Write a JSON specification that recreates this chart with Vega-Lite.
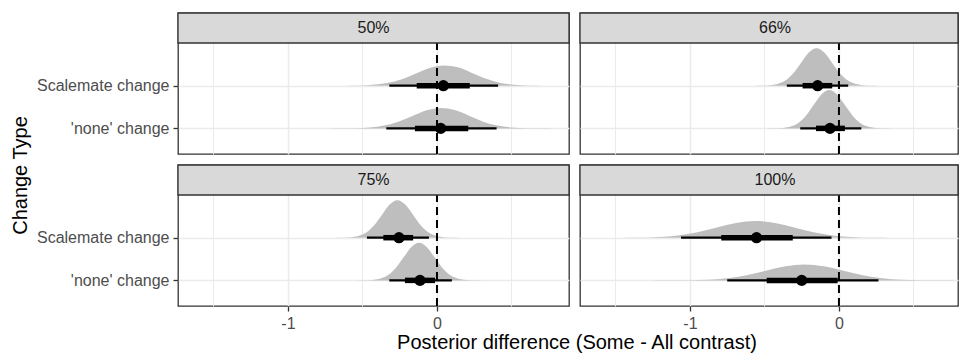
{
  "$schema": "https://vega.github.io/schema/vega-lite/v6.json",
  "padding": {"left": 9, "top": 11, "right": 0, "bottom": 0},
  "datasets": {
    "strips": [
      {"panel": "50%"}, {"panel": "66%"}, {"panel": "75%"}, {"panel": "100%"}
    ],
    "ivals": [
      {"panel": "50%", "type": "Scalemate change", "median": 0.043, "lo66": -0.136, "hi66": 0.22, "lo95": -0.32, "hi95": 0.41},
      {"panel": "50%", "type": "'none' change", "median": 0.025, "lo66": -0.148, "hi66": 0.21, "lo95": -0.34, "hi95": 0.40},
      {"panel": "66%", "type": "Scalemate change", "median": -0.143, "lo66": -0.244, "hi66": -0.045, "lo95": -0.35, "hi95": 0.062},
      {"panel": "66%", "type": "'none' change", "median": -0.06, "lo66": -0.154, "hi66": 0.04, "lo95": -0.26, "hi95": 0.15},
      {"panel": "75%", "type": "Scalemate change", "median": -0.255, "lo66": -0.36, "hi66": -0.16, "lo95": -0.47, "hi95": -0.054},
      {"panel": "75%", "type": "'none' change", "median": -0.114, "lo66": -0.215, "hi66": -0.013, "lo95": -0.32, "hi95": 0.10},
      {"panel": "100%", "type": "Scalemate change", "median": -0.553, "lo66": -0.79, "hi66": -0.31, "lo95": -1.06, "hi95": -0.05},
      {"panel": "100%", "type": "'none' change", "median": -0.25, "lo66": -0.485, "hi66": -0.009, "lo95": -0.75, "hi95": 0.265}
    ],
    "dens": [
      {"panel": "50%", "type": "Scalemate change", "x": -0.715, "density": 0},
      {"panel": "50%", "type": "Scalemate change", "x": -0.62, "density": 0.001},
      {"panel": "50%", "type": "Scalemate change", "x": -0.525, "density": 0.005},
      {"panel": "50%", "type": "Scalemate change", "x": -0.43, "density": 0.021},
      {"panel": "50%", "type": "Scalemate change", "x": -0.335, "density": 0.062},
      {"panel": "50%", "type": "Scalemate change", "x": -0.24, "density": 0.148},
      {"panel": "50%", "type": "Scalemate change", "x": -0.145, "density": 0.282},
      {"panel": "50%", "type": "Scalemate change", "x": -0.05, "density": 0.416},
      {"panel": "50%", "type": "Scalemate change", "x": 0.045, "density": 0.475},
      {"panel": "50%", "type": "Scalemate change", "x": 0.14, "density": 0.43},
      {"panel": "50%", "type": "Scalemate change", "x": 0.235, "density": 0.3},
      {"panel": "50%", "type": "Scalemate change", "x": 0.33, "density": 0.16},
      {"panel": "50%", "type": "Scalemate change", "x": 0.425, "density": 0.066},
      {"panel": "50%", "type": "Scalemate change", "x": 0.52, "density": 0.021},
      {"panel": "50%", "type": "Scalemate change", "x": 0.615, "density": 0.005},
      {"panel": "50%", "type": "Scalemate change", "x": 0.71, "density": 0.001},
      {"panel": "50%", "type": "Scalemate change", "x": 0.805, "density": 0},

      {"panel": "50%", "type": "'none' change", "x": -0.735, "density": 0},
      {"panel": "50%", "type": "'none' change", "x": -0.64, "density": 0.001},
      {"panel": "50%", "type": "'none' change", "x": -0.545, "density": 0.005},
      {"panel": "50%", "type": "'none' change", "x": -0.45, "density": 0.021},
      {"panel": "50%", "type": "'none' change", "x": -0.355, "density": 0.065},
      {"panel": "50%", "type": "'none' change", "x": -0.26, "density": 0.156},
      {"panel": "50%", "type": "'none' change", "x": -0.165, "density": 0.291},
      {"panel": "50%", "type": "'none' change", "x": -0.07, "density": 0.424},
      {"panel": "50%", "type": "'none' change", "x": 0.025, "density": 0.48},
      {"panel": "50%", "type": "'none' change", "x": 0.12, "density": 0.43},
      {"panel": "50%", "type": "'none' change", "x": 0.215, "density": 0.298},
      {"panel": "50%", "type": "'none' change", "x": 0.31, "density": 0.158},
      {"panel": "50%", "type": "'none' change", "x": 0.405, "density": 0.065},
      {"panel": "50%", "type": "'none' change", "x": 0.5, "density": 0.021},
      {"panel": "50%", "type": "'none' change", "x": 0.595, "density": 0.005},
      {"panel": "50%", "type": "'none' change", "x": 0.69, "density": 0.001},
      {"panel": "50%", "type": "'none' change", "x": 0.785, "density": 0},

      {"panel": "66%", "type": "Scalemate change", "x": -0.57, "density": 0},
      {"panel": "66%", "type": "Scalemate change", "x": -0.518, "density": 0.002},
      {"panel": "66%", "type": "Scalemate change", "x": -0.465, "density": 0.01},
      {"panel": "66%", "type": "Scalemate change", "x": -0.413, "density": 0.039},
      {"panel": "66%", "type": "Scalemate change", "x": -0.36, "density": 0.119},
      {"panel": "66%", "type": "Scalemate change", "x": -0.308, "density": 0.286},
      {"panel": "66%", "type": "Scalemate change", "x": -0.255, "density": 0.534},
      {"panel": "66%", "type": "Scalemate change", "x": -0.203, "density": 0.777},
      {"panel": "66%", "type": "Scalemate change", "x": -0.15, "density": 0.88},
      {"panel": "66%", "type": "Scalemate change", "x": -0.098, "density": 0.777},
      {"panel": "66%", "type": "Scalemate change", "x": -0.045, "density": 0.534},
      {"panel": "66%", "type": "Scalemate change", "x": 0.008, "density": 0.286},
      {"panel": "66%", "type": "Scalemate change", "x": 0.06, "density": 0.119},
      {"panel": "66%", "type": "Scalemate change", "x": 0.113, "density": 0.039},
      {"panel": "66%", "type": "Scalemate change", "x": 0.165, "density": 0.01},
      {"panel": "66%", "type": "Scalemate change", "x": 0.218, "density": 0.002},
      {"panel": "66%", "type": "Scalemate change", "x": 0.27, "density": 0},

      {"panel": "66%", "type": "'none' change", "x": -0.485, "density": 0},
      {"panel": "66%", "type": "'none' change", "x": -0.433, "density": 0.002},
      {"panel": "66%", "type": "'none' change", "x": -0.38, "density": 0.01},
      {"panel": "66%", "type": "'none' change", "x": -0.328, "density": 0.04},
      {"panel": "66%", "type": "'none' change", "x": -0.275, "density": 0.122},
      {"panel": "66%", "type": "'none' change", "x": -0.223, "density": 0.292},
      {"panel": "66%", "type": "'none' change", "x": -0.17, "density": 0.546},
      {"panel": "66%", "type": "'none' change", "x": -0.118, "density": 0.794},
      {"panel": "66%", "type": "'none' change", "x": -0.065, "density": 0.9},
      {"panel": "66%", "type": "'none' change", "x": -0.013, "density": 0.794},
      {"panel": "66%", "type": "'none' change", "x": 0.04, "density": 0.546},
      {"panel": "66%", "type": "'none' change", "x": 0.093, "density": 0.292},
      {"panel": "66%", "type": "'none' change", "x": 0.145, "density": 0.122},
      {"panel": "66%", "type": "'none' change", "x": 0.198, "density": 0.04},
      {"panel": "66%", "type": "'none' change", "x": 0.25, "density": 0.01},
      {"panel": "66%", "type": "'none' change", "x": 0.303, "density": 0.002},
      {"panel": "66%", "type": "'none' change", "x": 0.355, "density": 0},

      {"panel": "75%", "type": "Scalemate change", "x": -0.685, "density": 0},
      {"panel": "75%", "type": "Scalemate change", "x": -0.633, "density": 0.002},
      {"panel": "75%", "type": "Scalemate change", "x": -0.58, "density": 0.01},
      {"panel": "75%", "type": "Scalemate change", "x": -0.528, "density": 0.039},
      {"panel": "75%", "type": "Scalemate change", "x": -0.475, "density": 0.119},
      {"panel": "75%", "type": "Scalemate change", "x": -0.423, "density": 0.286},
      {"panel": "75%", "type": "Scalemate change", "x": -0.37, "density": 0.534},
      {"panel": "75%", "type": "Scalemate change", "x": -0.318, "density": 0.777},
      {"panel": "75%", "type": "Scalemate change", "x": -0.265, "density": 0.88},
      {"panel": "75%", "type": "Scalemate change", "x": -0.213, "density": 0.777},
      {"panel": "75%", "type": "Scalemate change", "x": -0.16, "density": 0.534},
      {"panel": "75%", "type": "Scalemate change", "x": -0.108, "density": 0.286},
      {"panel": "75%", "type": "Scalemate change", "x": -0.055, "density": 0.119},
      {"panel": "75%", "type": "Scalemate change", "x": -0.003, "density": 0.039},
      {"panel": "75%", "type": "Scalemate change", "x": 0.05, "density": 0.01},
      {"panel": "75%", "type": "Scalemate change", "x": 0.103, "density": 0.002},
      {"panel": "75%", "type": "Scalemate change", "x": 0.155, "density": 0},

      {"panel": "75%", "type": "'none' change", "x": -0.54, "density": 0},
      {"panel": "75%", "type": "'none' change", "x": -0.488, "density": 0.002},
      {"panel": "75%", "type": "'none' change", "x": -0.435, "density": 0.01},
      {"panel": "75%", "type": "'none' change", "x": -0.383, "density": 0.039},
      {"panel": "75%", "type": "'none' change", "x": -0.33, "density": 0.119},
      {"panel": "75%", "type": "'none' change", "x": -0.278, "density": 0.286},
      {"panel": "75%", "type": "'none' change", "x": -0.225, "density": 0.534},
      {"panel": "75%", "type": "'none' change", "x": -0.173, "density": 0.777},
      {"panel": "75%", "type": "'none' change", "x": -0.12, "density": 0.88},
      {"panel": "75%", "type": "'none' change", "x": -0.068, "density": 0.777},
      {"panel": "75%", "type": "'none' change", "x": -0.015, "density": 0.534},
      {"panel": "75%", "type": "'none' change", "x": 0.038, "density": 0.286},
      {"panel": "75%", "type": "'none' change", "x": 0.09, "density": 0.119},
      {"panel": "75%", "type": "'none' change", "x": 0.143, "density": 0.039},
      {"panel": "75%", "type": "'none' change", "x": 0.195, "density": 0.01},
      {"panel": "75%", "type": "'none' change", "x": 0.248, "density": 0.002},
      {"panel": "75%", "type": "'none' change", "x": 0.3, "density": 0},

      {"panel": "100%", "type": "Scalemate change", "x": -1.6, "density": 0},
      {"panel": "100%", "type": "Scalemate change", "x": -1.47, "density": 0.001},
      {"panel": "100%", "type": "Scalemate change", "x": -1.34, "density": 0.004},
      {"panel": "100%", "type": "Scalemate change", "x": -1.21, "density": 0.017},
      {"panel": "100%", "type": "Scalemate change", "x": -1.08, "density": 0.053},
      {"panel": "100%", "type": "Scalemate change", "x": -0.95, "density": 0.127},
      {"panel": "100%", "type": "Scalemate change", "x": -0.82, "density": 0.237},
      {"panel": "100%", "type": "Scalemate change", "x": -0.69, "density": 0.344},
      {"panel": "100%", "type": "Scalemate change", "x": -0.56, "density": 0.39},
      {"panel": "100%", "type": "Scalemate change", "x": -0.43, "density": 0.344},
      {"panel": "100%", "type": "Scalemate change", "x": -0.3, "density": 0.237},
      {"panel": "100%", "type": "Scalemate change", "x": -0.17, "density": 0.127},
      {"panel": "100%", "type": "Scalemate change", "x": -0.04, "density": 0.053},
      {"panel": "100%", "type": "Scalemate change", "x": 0.09, "density": 0.017},
      {"panel": "100%", "type": "Scalemate change", "x": 0.22, "density": 0.004},
      {"panel": "100%", "type": "Scalemate change", "x": 0.35, "density": 0.001},
      {"panel": "100%", "type": "Scalemate change", "x": 0.48, "density": 0},

      {"panel": "100%", "type": "'none' change", "x": -1.27, "density": 0},
      {"panel": "100%", "type": "'none' change", "x": -1.14, "density": 0.001},
      {"panel": "100%", "type": "'none' change", "x": -1.01, "density": 0.004},
      {"panel": "100%", "type": "'none' change", "x": -0.88, "density": 0.017},
      {"panel": "100%", "type": "'none' change", "x": -0.75, "density": 0.051},
      {"panel": "100%", "type": "'none' change", "x": -0.62, "density": 0.122},
      {"panel": "100%", "type": "'none' change", "x": -0.49, "density": 0.227},
      {"panel": "100%", "type": "'none' change", "x": -0.36, "density": 0.331},
      {"panel": "100%", "type": "'none' change", "x": -0.23, "density": 0.375},
      {"panel": "100%", "type": "'none' change", "x": -0.1, "density": 0.331},
      {"panel": "100%", "type": "'none' change", "x": 0.03, "density": 0.227},
      {"panel": "100%", "type": "'none' change", "x": 0.16, "density": 0.122},
      {"panel": "100%", "type": "'none' change", "x": 0.29, "density": 0.051},
      {"panel": "100%", "type": "'none' change", "x": 0.42, "density": 0.017},
      {"panel": "100%", "type": "'none' change", "x": 0.55, "density": 0.004},
      {"panel": "100%", "type": "'none' change", "x": 0.68, "density": 0.001},
      {"panel": "100%", "type": "'none' change", "x": 0.81, "density": 0}
    ]
  },
  "columns": 2,
  "spacing": 11,
  "bounds": "flush",
  "concat": [
    {
      "width": 391, "height": 141,
      "layer": [
        {
          "data": {"name": "dens"},
          "transform": [
            {"filter": "datum.panel === '50%'"},
            {"calculate": "datum.type === 'Scalemate change' ? 2 : 1", "as": "level"},
            {"calculate": "datum.level + datum.density", "as": "top"}
          ],
          "mark": {"type": "area", "color": "#bebebe", "opacity": 1, "interpolate": "monotone"},
          "encoding": {
            "x": {"field": "x", "type": "quantitative", "scale": {"domain": [-1.738, 0.886], "nice": false, "zero": false},
              "axis": {"values": [-1.5, -1, -0.5, 0, 0.5], "labels": false, "ticks": false, "grid": true, "title": null,
                "gridWidth": {"condition": {"test": "datum.value % 1 !== 0", "value": 1}, "value": 1.5}}},
            "y": {"field": "top", "type": "quantitative", "scale": {"domain": [0.4, 3.703], "nice": false, "zero": false},
              "axis": {"values": [1, 2], "labelExpr": "datum.value === 2 ? 'Scalemate change' : '\\'none\\' change'", "grid": true, "gridWidth": 1.5,
                "title": "Change Type", "titleY": 162, "titlePadding": 6}},
            "y2": {"field": "level"},
            "detail": {"field": "type"}
          }
        },
        {
          "data": {"name": "ivals"},
          "transform": [
            {"filter": "datum.panel === '50%'"},
            {"calculate": "datum.type === 'Scalemate change' ? 2 : 1", "as": "level"}
          ],
          "layer": [
            {"mark": {"type": "rule", "color": "#000000", "strokeWidth": 2.2},
             "encoding": {"x": {"field": "lo95", "type": "quantitative"}, "x2": {"field": "hi95"}, "y": {"field": "level", "type": "quantitative"}}},
            {"mark": {"type": "rule", "color": "#000000", "strokeWidth": 5.5},
             "encoding": {"x": {"field": "lo66", "type": "quantitative"}, "x2": {"field": "hi66"}, "y": {"field": "level", "type": "quantitative"}}},
            {"mark": {"type": "point", "filled": true, "color": "#000000", "opacity": 1, "size": 125},
             "encoding": {"x": {"field": "median", "type": "quantitative"}, "y": {"field": "level", "type": "quantitative"}}}
          ]
        },
        {
          "data": {"name": "strips"},
          "transform": [{"filter": "datum.panel === '50%'"}],
          "layer": [
            {"mark": {"type": "rule", "color": "#000000", "strokeWidth": 2, "strokeDash": [8, 5]},
             "encoding": {"x": {"datum": 0, "type": "quantitative"}, "y": {"datum": 0.4, "type": "quantitative"}, "y2": {"datum": 3.0}}},
            {"mark": {"type": "rect", "fill": "#d9d9d9", "stroke": "#333333", "strokeWidth": 1.3},
             "encoding": {"x": {"datum": -1.738, "type": "quantitative"}, "x2": {"datum": 0.886}, "y": {"datum": 3.0, "type": "quantitative"}, "y2": {"datum": 3.703}}},
            {"mark": {"type": "text", "fontSize": 16, "color": "#1a1a1a", "baseline": "middle"},
             "encoding": {"y": {"datum": 3.352, "type": "quantitative"}, "text": {"field": "panel"}}}
          ]
        }
      ]
    },
    {
      "width": 378, "height": 141,
      "layer": [
        {
          "data": {"name": "dens"},
          "transform": [
            {"filter": "datum.panel === '66%'"},
            {"calculate": "datum.type === 'Scalemate change' ? 2 : 1", "as": "level"},
            {"calculate": "datum.level + datum.density", "as": "top"}
          ],
          "mark": {"type": "area", "color": "#bebebe", "opacity": 1, "interpolate": "monotone"},
          "encoding": {
            "x": {"field": "x", "type": "quantitative", "scale": {"domain": [-1.738, 0.799], "nice": false, "zero": false},
              "axis": {"values": [-1.5, -1, -0.5, 0, 0.5], "labels": false, "ticks": false, "grid": true, "title": null,
                "gridWidth": {"condition": {"test": "datum.value % 1 !== 0", "value": 1}, "value": 1.5}}},
            "y": {"field": "top", "type": "quantitative", "scale": {"domain": [0.4, 3.703], "nice": false, "zero": false},
              "axis": {"values": [1, 2], "labels": false, "ticks": false, "grid": true, "gridWidth": 1.5, "title": null}},
            "y2": {"field": "level"},
            "detail": {"field": "type"}
          }
        },
        {
          "data": {"name": "ivals"},
          "transform": [
            {"filter": "datum.panel === '66%'"},
            {"calculate": "datum.type === 'Scalemate change' ? 2 : 1", "as": "level"}
          ],
          "layer": [
            {"mark": {"type": "rule", "color": "#000000", "strokeWidth": 2.2},
             "encoding": {"x": {"field": "lo95", "type": "quantitative"}, "x2": {"field": "hi95"}, "y": {"field": "level", "type": "quantitative"}}},
            {"mark": {"type": "rule", "color": "#000000", "strokeWidth": 5.5},
             "encoding": {"x": {"field": "lo66", "type": "quantitative"}, "x2": {"field": "hi66"}, "y": {"field": "level", "type": "quantitative"}}},
            {"mark": {"type": "point", "filled": true, "color": "#000000", "opacity": 1, "size": 125},
             "encoding": {"x": {"field": "median", "type": "quantitative"}, "y": {"field": "level", "type": "quantitative"}}}
          ]
        },
        {
          "data": {"name": "strips"},
          "transform": [{"filter": "datum.panel === '66%'"}],
          "layer": [
            {"mark": {"type": "rule", "color": "#000000", "strokeWidth": 2, "strokeDash": [8, 5]},
             "encoding": {"x": {"datum": 0, "type": "quantitative"}, "y": {"datum": 0.4, "type": "quantitative"}, "y2": {"datum": 3.0}}},
            {"mark": {"type": "rect", "fill": "#d9d9d9", "stroke": "#333333", "strokeWidth": 1.3},
             "encoding": {"x": {"datum": -1.738, "type": "quantitative"}, "x2": {"datum": 0.799}, "y": {"datum": 3.0, "type": "quantitative"}, "y2": {"datum": 3.703}}},
            {"mark": {"type": "text", "fontSize": 16, "color": "#1a1a1a", "baseline": "middle", "dx": 6},
             "encoding": {"y": {"datum": 3.352, "type": "quantitative"}, "text": {"field": "panel"}}}
          ]
        }
      ]
    },
    {
      "width": 391, "height": 141,
      "layer": [
        {
          "data": {"name": "dens"},
          "transform": [
            {"filter": "datum.panel === '75%'"},
            {"calculate": "datum.type === 'Scalemate change' ? 2 : 1", "as": "level"},
            {"calculate": "datum.level + datum.density", "as": "top"}
          ],
          "mark": {"type": "area", "color": "#bebebe", "opacity": 1, "interpolate": "monotone"},
          "encoding": {
            "x": {"field": "x", "type": "quantitative", "scale": {"domain": [-1.738, 0.886], "nice": false, "zero": false},
              "axis": {"values": [-1.5, -1, -0.5, 0, 0.5], "labelExpr": "datum.value === 0 ? '0' : datum.value === -1 ? '-1' : ''", "grid": true,
                "tickOpacity": {"condition": {"test": "datum.value % 1 !== 0", "value": 0}, "value": 1},
                "gridWidth": {"condition": {"test": "datum.value % 1 !== 0", "value": 1}, "value": 1.5},
                "title": "Posterior difference (Some - All contrast)", "titleX": 398.5, "titlePadding": 1}},
            "y": {"field": "top", "type": "quantitative", "scale": {"domain": [0.4, 3.703], "nice": false, "zero": false},
              "axis": {"values": [1, 2], "labelExpr": "datum.value === 2 ? 'Scalemate change' : '\\'none\\' change'", "grid": true, "gridWidth": 1.5, "title": null}},
            "y2": {"field": "level"},
            "detail": {"field": "type"}
          }
        },
        {
          "data": {"name": "ivals"},
          "transform": [
            {"filter": "datum.panel === '75%'"},
            {"calculate": "datum.type === 'Scalemate change' ? 2 : 1", "as": "level"}
          ],
          "layer": [
            {"mark": {"type": "rule", "color": "#000000", "strokeWidth": 2.2},
             "encoding": {"x": {"field": "lo95", "type": "quantitative"}, "x2": {"field": "hi95"}, "y": {"field": "level", "type": "quantitative"}}},
            {"mark": {"type": "rule", "color": "#000000", "strokeWidth": 5.5},
             "encoding": {"x": {"field": "lo66", "type": "quantitative"}, "x2": {"field": "hi66"}, "y": {"field": "level", "type": "quantitative"}}},
            {"mark": {"type": "point", "filled": true, "color": "#000000", "opacity": 1, "size": 125},
             "encoding": {"x": {"field": "median", "type": "quantitative"}, "y": {"field": "level", "type": "quantitative"}}}
          ]
        },
        {
          "data": {"name": "strips"},
          "transform": [{"filter": "datum.panel === '75%'"}],
          "layer": [
            {"mark": {"type": "rule", "color": "#000000", "strokeWidth": 2, "strokeDash": [8, 5]},
             "encoding": {"x": {"datum": 0, "type": "quantitative"}, "y": {"datum": 0.4, "type": "quantitative"}, "y2": {"datum": 3.0}}},
            {"mark": {"type": "rect", "fill": "#d9d9d9", "stroke": "#333333", "strokeWidth": 1.3},
             "encoding": {"x": {"datum": -1.738, "type": "quantitative"}, "x2": {"datum": 0.886}, "y": {"datum": 3.0, "type": "quantitative"}, "y2": {"datum": 3.703}}},
            {"mark": {"type": "text", "fontSize": 16, "color": "#1a1a1a", "baseline": "middle"},
             "encoding": {"y": {"datum": 3.352, "type": "quantitative"}, "text": {"field": "panel"}}}
          ]
        }
      ]
    },
    {
      "width": 378, "height": 141,
      "layer": [
        {
          "data": {"name": "dens"},
          "transform": [
            {"filter": "datum.panel === '100%'"},
            {"calculate": "datum.type === 'Scalemate change' ? 2 : 1", "as": "level"},
            {"calculate": "datum.level + datum.density", "as": "top"}
          ],
          "mark": {"type": "area", "color": "#bebebe", "opacity": 1, "interpolate": "monotone", "clip": true},
          "encoding": {
            "x": {"field": "x", "type": "quantitative", "scale": {"domain": [-1.738, 0.799], "nice": false, "zero": false},
              "axis": {"values": [-1.5, -1, -0.5, 0, 0.5], "labelExpr": "datum.value === 0 ? '0' : datum.value === -1 ? '-1' : ''", "grid": true,
                "tickOpacity": {"condition": {"test": "datum.value % 1 !== 0", "value": 0}, "value": 1},
                "gridWidth": {"condition": {"test": "datum.value % 1 !== 0", "value": 1}, "value": 1.5},
                "title": null}},
            "y": {"field": "top", "type": "quantitative", "scale": {"domain": [0.4, 3.703], "nice": false, "zero": false},
              "axis": {"values": [1, 2], "labels": false, "ticks": false, "grid": true, "gridWidth": 1.5, "title": null}},
            "y2": {"field": "level"},
            "detail": {"field": "type"}
          }
        },
        {
          "data": {"name": "ivals"},
          "transform": [
            {"filter": "datum.panel === '100%'"},
            {"calculate": "datum.type === 'Scalemate change' ? 2 : 1", "as": "level"}
          ],
          "layer": [
            {"mark": {"type": "rule", "color": "#000000", "strokeWidth": 2.2},
             "encoding": {"x": {"field": "lo95", "type": "quantitative"}, "x2": {"field": "hi95"}, "y": {"field": "level", "type": "quantitative"}}},
            {"mark": {"type": "rule", "color": "#000000", "strokeWidth": 5.5},
             "encoding": {"x": {"field": "lo66", "type": "quantitative"}, "x2": {"field": "hi66"}, "y": {"field": "level", "type": "quantitative"}}},
            {"mark": {"type": "point", "filled": true, "color": "#000000", "opacity": 1, "size": 125},
             "encoding": {"x": {"field": "median", "type": "quantitative"}, "y": {"field": "level", "type": "quantitative"}}}
          ]
        },
        {
          "data": {"name": "strips"},
          "transform": [{"filter": "datum.panel === '100%'"}],
          "layer": [
            {"mark": {"type": "rule", "color": "#000000", "strokeWidth": 2, "strokeDash": [8, 5]},
             "encoding": {"x": {"datum": 0, "type": "quantitative"}, "y": {"datum": 0.4, "type": "quantitative"}, "y2": {"datum": 3.0}}},
            {"mark": {"type": "rect", "fill": "#d9d9d9", "stroke": "#333333", "strokeWidth": 1.3},
             "encoding": {"x": {"datum": -1.738, "type": "quantitative"}, "x2": {"datum": 0.799}, "y": {"datum": 3.0, "type": "quantitative"}, "y2": {"datum": 3.703}}},
            {"mark": {"type": "text", "fontSize": 16, "color": "#1a1a1a", "baseline": "middle", "dx": 6},
             "encoding": {"y": {"datum": 3.352, "type": "quantitative"}, "text": {"field": "panel"}}}
          ]
        }
      ]
    }
  ],
  "config": {
    "font": "Liberation Sans",
    "view": {"stroke": "#333333", "strokeWidth": 1.3},
    "axis": {
      "domain": false,
      "labelFont": "Liberation Sans",
      "labelFontSize": 16,
      "labelColor": "#4d4d4d",
      "labelPadding": 4,
      "tickColor": "#333333",
      "tickSize": 5,
      "tickWidth": 1.3,
      "gridColor": "#ebebeb",
      "titleFont": "Liberation Sans",
      "titleFontSize": 20,
      "titleFontWeight": "normal",
      "titleColor": "#000000"
    }
  }
}
